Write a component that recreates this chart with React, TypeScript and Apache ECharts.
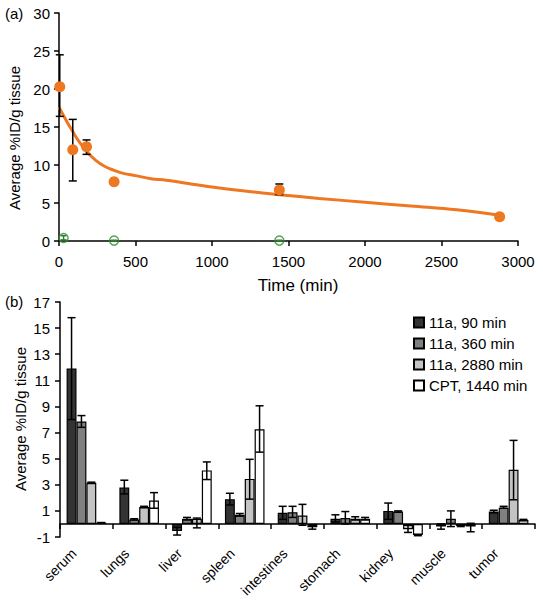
import React, { useEffect, useRef } from "react";
import * as echarts from "echarts";

const FONT = '"Liberation Sans", Arial, Helvetica, sans-serif';

// ---- Panel (a) data ----
const timeOrange = [5, 90, 180, 360, 1440, 2880];
const valOrange = [20.3, 12.0, 12.4, 7.8, 6.7, 3.2];
const loOrange = [16.4, 7.9, 11.4, 7.8, 6.1, 3.2];
const hiOrange = [24.5, 16.0, 13.3, 7.8, 7.5, 3.2];

const timeGreen = [30, 360, 1440];
const valGreen = [0.4, 0.05, 0.05];
const loGreen = [0.15, 0.0, 0.0];
const hiGreen = [0.7, 0.1, 0.1];

const fitTime = [0, 30, 60, 90, 120, 180, 240, 300, 360, 420, 500, 600, 700, 800, 1000, 1200, 1440, 1700, 2000, 2300, 2600, 2880];
const fitValue = [17.6, 16.5, 15.4, 14.4, 13.4, 11.8, 10.6, 9.8, 9.3, 8.9, 8.6, 8.2, 8.0, 7.7, 7.1, 6.6, 6.1, 5.6, 5.1, 4.6, 4.1, 3.4];

const xTicksA = { min: 0, max: 3000, interval: 500 };
const yTicksA = { min: 0, max: 30, interval: 5 };

// ---- Panel (b) data ----
const tissues = ["serum", "lungs", "liver", "spleen", "intestines", "stomach", "kidney", "muscle", "tumor"];
const seriesNames = ["11a, 90 min", "11a, 360 min", "11a, 2880 min", "CPT, 1440 min"];
const seriesColors = ["#333333", "#808080", "#c4c4c4", "#ffffff"];

const v90 = [11.9, 2.8, -0.55, 1.9, 0.85, 0.4, 1.0, -0.2, 0.95];
const lo90 = [8.0, 2.3, -0.85, 1.45, 0.35, 0.15, 0.35, -0.4, 0.85];
const hi90 = [15.8, 3.35, -0.25, 2.35, 1.35, 0.7, 1.6, 0.0, 1.05];

const v360 = [7.85, 0.35, 0.4, 0.7, 0.9, 0.45, 0.95, 0.4, 1.25];
const lo360 = [7.4, 0.3, 0.3, 0.6, 0.5, 0.0, 0.9, -0.2, 1.2];
const hi360 = [8.3, 0.4, 0.5, 0.8, 1.35, 0.95, 1.0, 1.0, 1.35];

const v2880 = [3.15, 1.3, 0.4, 3.45, 0.65, 0.4, -0.4, -0.15, 4.15];
const lo2880 = [3.1, 1.25, -0.3, 1.9, -0.1, 0.3, -0.65, -0.2, 1.85];
const hi2880 = [3.2, 1.35, 0.45, 4.95, 1.5, 0.55, -0.1, -0.1, 6.4];

const vCPT = [0.1, 1.8, 4.1, 7.25, -0.25, 0.4, -0.85, -0.2, 0.3];
const loCPT = [0.1, 1.2, 3.4, 5.5, -0.4, 0.3, -0.9, -0.6, 0.25];
const hiCPT = [0.1, 2.4, 4.75, 9.05, -0.1, 0.5, -0.8, 0.05, 0.35];

const yTicksB = { min: -1, max: 17, interval: 2 };

const barValues = [v90, v360, v2880, vCPT];
const barLows = [lo90, lo360, lo2880, loCPT];
const barHighs = [hi90, hi360, hi2880, hiCPT];

const CAT_GAP = 0.25;

function App() {
  const ref = useRef<HTMLDivElement>(null);

  useEffect(() => {
    if (!ref.current) return;
    const chart = echarts.init(ref.current, null, { renderer: "svg" });

    const axisLineStyle = { color: "#000", width: 1.5 };
    const labelStyle = { color: "#000", fontSize: 15, fontFamily: FONT };

    const errA = (lo: number[], hi: number[], t: number[], color: string, capW: number) => ({
      type: "custom",
      xAxisIndex: 0,
      yAxisIndex: 0,
      z: 2,
      encode: { x: 0, y: [1, 2] },
      data: t.map((tt, i) => [tt, lo[i], hi[i]]),
      renderItem: (params: any, api: any) => {
        const pLo = api.coord([api.value(0), api.value(1)]);
        const pHi = api.coord([api.value(0), api.value(2)]);
        const st = { stroke: color, lineWidth: 1.5 };
        return {
          type: "group",
          children: [
            { type: "line", shape: { x1: pLo[0], y1: pLo[1], x2: pHi[0], y2: pHi[1] }, style: st },
            { type: "line", shape: { x1: pLo[0] - capW, y1: pLo[1], x2: pLo[0] + capW, y2: pLo[1] }, style: st },
            { type: "line", shape: { x1: pHi[0] - capW, y1: pHi[1], x2: pHi[0] + capW, y2: pHi[1] }, style: st },
          ],
        };
      },
    });

    const barSeries = seriesNames.map((name, i) => ({
      name,
      type: "bar",
      xAxisIndex: 1,
      yAxisIndex: 1,
      barGap: "0%",
      barCategoryGap: `${CAT_GAP * 100}%`,
      z: 3,
      itemStyle: { color: seriesColors[i], borderColor: "#000", borderWidth: 1.2 },
      data: barValues[i],
    }));

    const barErrSeries = seriesNames.map((name, i) => ({
      type: "custom",
      xAxisIndex: 1,
      yAxisIndex: 1,
      z: 4,
      encode: { x: 0, y: [1, 2] },
      data: tissues.map((_, k) => [k, barLows[i][k], barHighs[i][k]]),
      renderItem: (params: any, api: any) => {
        const cat = api.value(0);
        const base = api.coord([cat, 0]);
        const w = api.size([1, 0])[0];
        const bw = (w * (1 - CAT_GAP)) / 4;
        const x = base[0] + (i - 1.5) * bw;
        const yLo = api.coord([cat, api.value(1)])[1];
        const yHi = api.coord([cat, api.value(2)])[1];
        const cap = 4;
        const st = { stroke: "#000", lineWidth: 1.5 };
        return {
          type: "group",
          children: [
            { type: "line", shape: { x1: x, y1: yLo, x2: x, y2: yHi }, style: st },
            { type: "line", shape: { x1: x - cap, y1: yLo, x2: x + cap, y2: yLo }, style: st },
            { type: "line", shape: { x1: x - cap, y1: yHi, x2: x + cap, y2: yHi }, style: st },
          ],
        };
      },
    }));

    const staticGraphic = [
      { type: "text", left: 5, top: 6, style: { text: "(a)", fontSize: 15, fontFamily: FONT, fill: "#000" } },
      { type: "text", left: 5, top: 294, style: { text: "(b)", fontSize: 15, fontFamily: FONT, fill: "#000" } },
      {
        type: "text",
        x: 14,
        y: 138,
        rotation: Math.PI / 2,
        style: { text: "Average %ID/g tissue", fontSize: 15, fontFamily: FONT, fill: "#000", align: "center", verticalAlign: "middle" },
      },
      {
        type: "text",
        x: 20,
        y: 419,
        rotation: Math.PI / 2,
        style: { text: "Average %ID/g tissue", fontSize: 15, fontFamily: FONT, fill: "#000", align: "center", verticalAlign: "middle" },
      },
      {
        type: "text",
        x: 298,
        y: 285,
        style: { text: "Time (min)", fontSize: 17, fontFamily: FONT, fill: "#000", align: "center", verticalAlign: "middle" },
      },
    ];

    const option: any = {
      animation: false,
      backgroundColor: "#fff",
      textStyle: { fontFamily: FONT },
      grid: [
        { left: 59, top: 13, width: 459, height: 228 },
        { left: 60, top: 302, width: 475, height: 235 },
      ],
      legend: {
        data: seriesNames,
        orient: "vertical",
        left: 408,
        top: 310,
        padding: 5,
        itemWidth: 10,
        itemHeight: 10,
        itemGap: 6,
        icon: "rect",
        textStyle: { color: "#000", fontSize: 15, fontFamily: FONT },
      },
      xAxis: [
        {
          type: "value",
          gridIndex: 0,
          ...xTicksA,
          axisLine: { show: true, lineStyle: axisLineStyle },
          axisTick: { show: true, length: 5, lineStyle: axisLineStyle },
          axisLabel: { ...labelStyle, margin: 13, formatter: (v: number) => String(v) },
          splitLine: { show: false },
        },
        {
          type: "category",
          gridIndex: 1,
          data: tissues,
          axisLine: { show: true, onZero: true, lineStyle: axisLineStyle },
          axisTick: { show: true, length: 5, interval: 0, lineStyle: axisLineStyle },
          axisLabel: { show: false },
          splitLine: { show: false },
        },
      ],
      yAxis: [
        {
          type: "value",
          gridIndex: 0,
          ...yTicksA,
          axisLine: { show: true, lineStyle: axisLineStyle },
          axisTick: { show: true, length: 5, lineStyle: axisLineStyle },
          axisLabel: { ...labelStyle, margin: 9 },
          splitLine: { show: false },
        },
        {
          type: "value",
          gridIndex: 1,
          ...yTicksB,
          axisLine: { show: true, lineStyle: axisLineStyle },
          axisTick: { show: true, length: 5, lineStyle: axisLineStyle },
          axisLabel: { ...labelStyle, margin: 10 },
          splitLine: { show: false },
        },
      ],
      series: [
        {
          type: "line",
          xAxisIndex: 0,
          yAxisIndex: 0,
          data: fitTime.map((t, i) => [t, fitValue[i]]),
          smooth: 0.4,
          showSymbol: false,
          symbol: "none",
          lineStyle: { color: "#ee7722", width: 3 },
          z: 1,
        },
        errA(loOrange, hiOrange, timeOrange, "#000", 4),
        errA(loGreen, hiGreen, timeGreen, "#2e7d32", 3),
        {
          type: "scatter",
          xAxisIndex: 0,
          yAxisIndex: 0,
          data: timeOrange.map((t, i) => [t, valOrange[i]]),
          symbol: "circle",
          symbolSize: 11,
          itemStyle: { color: "#ee7722", opacity: 1 },
          z: 5,
        },
        {
          type: "scatter",
          xAxisIndex: 0,
          yAxisIndex: 0,
          data: timeGreen.map((t, i) => [t, valGreen[i]]),
          symbol: "circle",
          symbolSize: 9,
          itemStyle: { color: "rgba(255,255,255,0)", borderColor: "#2e8b2e", borderWidth: 1.5 },
          z: 5,
        },
        ...barSeries,
        ...barErrSeries,
      ],
      graphic: staticGraphic,
    };

    chart.setOption(option);

    // rotated category labels, positioned from the category axis scale
    const catLabels = tissues.map((name, k) => {
      const p = chart.convertToPixel({ xAxisIndex: 1, yAxisIndex: 1 }, [k, yTicksB.min]) as number[];
      return {
        type: "text",
        x: p[0] - 12.5,
        y: p[1] + 14,
        rotation: Math.PI / 4,
        style: {
          text: name,
          fontSize: 14,
          fontFamily: FONT,
          fill: "#000",
          align: "right",
          verticalAlign: "middle",
        },
      };
    });
    chart.setOption({ graphic: [...staticGraphic, ...catLabels] });

    return () => chart.dispose();
  }, []);

  return <div ref={ref} style={{ width: 543, height: 601, position: "absolute", left: 0, top: 0 }} />;
}

export default App;
